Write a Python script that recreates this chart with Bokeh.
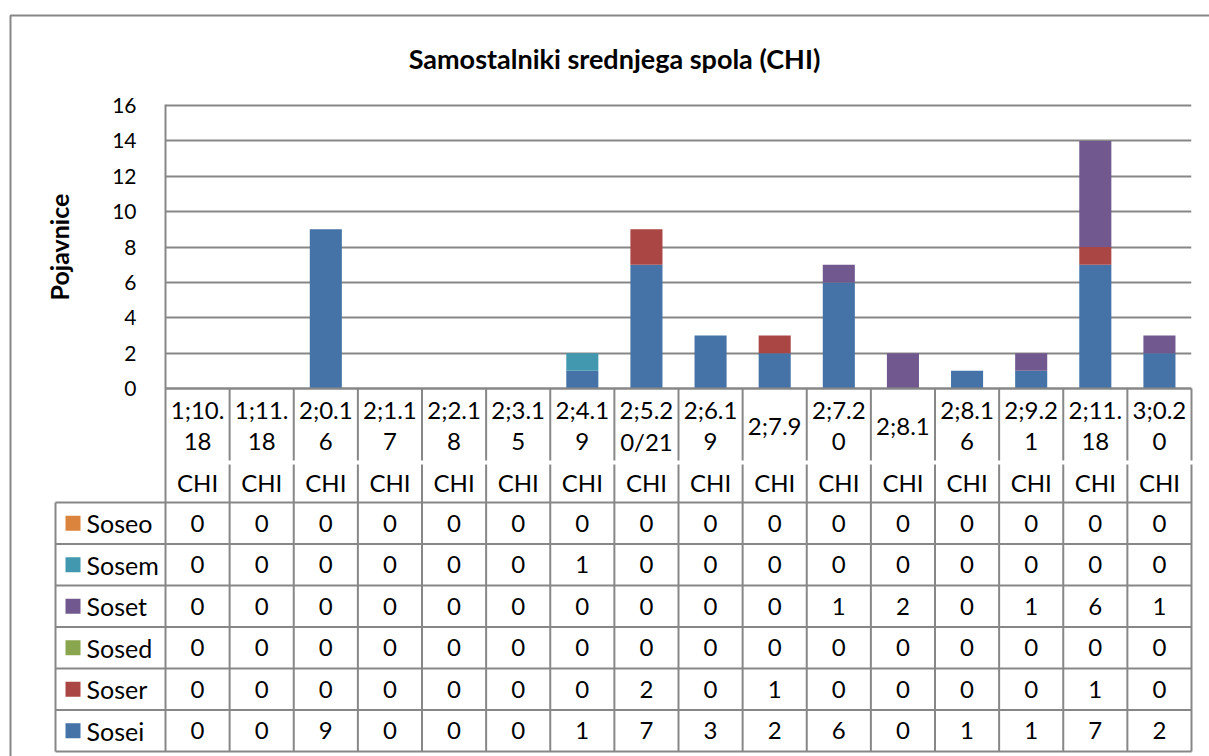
from bokeh.plotting import figure
from bokeh.models import ColumnDataSource, Range1d, FixedTicker
from bokeh.core.properties import value
from bokeh.embed import file_html
from bokeh.resources import INLINE

# ---------------- data ----------------
title = "Samostalniki srednjega spola (CHI)"
y_label = "Pojavnice"
ages = ["1;10.18", "1;11.18", "2;0.16", "2;1.17", "2;2.18", "2;3.15", "2;4.19",
        "2;5.20/21", "2;6.19", "2;7.9", "2;7.20", "2;8.1", "2;8.16", "2;9.21",
        "2;11.18", "3;0.20"]
speaker = "CHI"
series = ["Sosei", "Soser", "Sosed", "Soset", "Sosem", "Soseo"]  # stack order, bottom-up
sosei = [0, 0, 9, 0, 0, 0, 1, 7, 3, 2, 6, 0, 1, 1, 7, 2]
soser = [0, 0, 0, 0, 0, 0, 0, 2, 0, 1, 0, 0, 0, 0, 1, 0]
sosed = [0, 0, 0, 0, 0, 0, 0, 0, 0, 0, 0, 0, 0, 0, 0, 0]
soset = [0, 0, 0, 0, 0, 0, 0, 0, 0, 0, 1, 2, 0, 1, 6, 1]
sosem = [0, 0, 0, 0, 0, 0, 1, 0, 0, 0, 0, 0, 0, 0, 0, 0]
soseo = [0, 0, 0, 0, 0, 0, 0, 0, 0, 0, 0, 0, 0, 0, 0, 0]
colors = ["#4572A7", "#AA4643", "#89A54E", "#71588F", "#4198AF", "#DB843D"]
y_ticks = [0, 2, 4, 6, 8, 10, 12, 14, 16]

values = {"Sosei": sosei, "Soser": soser, "Sosed": sosed,
          "Soset": soset, "Sosem": sosem, "Soseo": soseo}

# ---------------- layout (page pixels) ----------------
W, H = 1209, 756
FONT = "Lato"
GRAY = "#878787"
n = len(ages)
col_w = 64.125
ppu = 17.6875               # pixels per y unit
pad = 2 / ppu


def X(px):  # page x -> data x
    return (px - 165) / col_w


def Y(py):  # page y -> data y
    return (388 - py) / ppu


p = figure(width=W, height=H, output_backend="svg", toolbar_location=None,
           x_range=Range1d(0, n), y_range=Range1d(-pad, 16 + pad),
           min_border_left=165, min_border_right=18,
           min_border_top=103, min_border_bottom=366)
p.outline_line_color = None
p.background_fill_color = "white"
p.border_fill_color = "white"
p.xaxis.visible = False
p.xgrid.visible = False
p.ygrid.ticker = FixedTicker(ticks=y_ticks)
p.ygrid.grid_line_color = GRAY
p.ygrid.grid_line_width = 2

ax = p.yaxis[0]
ax.ticker = FixedTicker(ticks=y_ticks)
ax.axis_line_color = None
ax.major_tick_line_color = None
ax.minor_tick_line_color = None
ax.major_label_standoff = 23
ax.major_label_text_font = FONT
ax.major_label_text_font_size = "21px"
ax.major_label_text_color = "black"
ax.axis_label = y_label
ax.axis_label_text_font = FONT
ax.axis_label_text_font_style = "bold"
ax.axis_label_text_font_size = "25px"
ax.axis_label_text_color = "black"
ax.axis_label_standoff = 35

# ---------------- stacked bars ----------------
src = ColumnDataSource(dict(x=[i + 0.5 for i in range(n)], **values))
p.vbar_stack(series, x="x", width=0.5, source=src, color=colors,
             line_color=None)

# ---------------- title ----------------
p.text(x=[X(614)], y=[Y(58)], text=[title], text_font=value(FONT),
       text_font_style="bold", text_font_size="27px", text_align="center",
       text_baseline="middle", text_color="black", level="overlay")

# ---------------- table lines ----------------
rows = list(reversed(series))
row_top = 502
row_h = 41.5
bottom = row_top + row_h * len(rows)
xs, ys = [], []
# plot left edge + header/table column lines
xs.append([X(165), X(165)]); ys.append([Y(104), Y(bottom)])
for i in range(1, n + 1):
    xx = X(165 + col_w * i)
    xs.append([xx, xx]); ys.append([Y(388), Y(460)])
    xs.append([xx, xx]); ys.append([Y(464), Y(bottom)])
# horizontal lines
xs.append([X(165), X(1191)]); ys.append([Y(388), Y(388)])
for r in range(len(rows) + 1):
    yy = Y(row_top + row_h * r)
    xs.append([X(55), X(1191)]); ys.append([yy, yy])
xs.append([X(55), X(55)]); ys.append([Y(row_top), Y(bottom)])
p.multi_line(xs, ys, line_color=GRAY, line_width=2, level="overlay")

# outer chart border
p.multi_line([[X(10), X(10), X(1300)]], [[Y(900), Y(15), Y(15)]],
             line_color=GRAY, line_width=2, level="overlay")

# ---------------- header labels ----------------
hx, hy, ht = [], [], []
for i, a in enumerate(ages):
    cx = X(165 + col_w * (i + 0.5))
    parts = [a[:5], a[5:]] if len(a) > 5 else [a]
    if len(parts) == 1:
        hx.append(cx); hy.append(Y(425)); ht.append(parts[0])
    else:
        hx += [cx, cx]; hy += [Y(409), Y(441)]; ht += parts
    hx.append(cx); hy.append(Y(482)); ht.append(speaker)
p.text(x=hx, y=hy, text=ht, text_font=value(FONT), text_font_size="24px",
       text_align="center", text_baseline="middle", text_color="black",
       level="overlay")

# ---------------- table values ----------------
tx, ty, tt = [], [], []
lx, ly, lt, lc = [], [], [], []
for r, s in enumerate(rows):
    cy = Y(row_top + row_h * (r + 0.5))
    for i, v in enumerate(values[s]):
        tx.append(X(165 + col_w * (i + 0.5))); ty.append(cy); tt.append(str(v))
    lx.append(X(72.5)); ly.append(cy); lt.append(s)
    lc.append(colors[series.index(s)])
p.text(x=tx, y=ty, text=tt, text_font=value(FONT), text_font_size="24px",
       text_align="center", text_baseline="middle", text_color="black",
       level="overlay")
p.rect(x=lx, y=ly, width=15 / col_w, height=15 / ppu, fill_color=lc,
       line_color=None, level="overlay")
p.text(x=[X(86)] * len(lt), y=ly, text=lt, text_font=value(FONT),
       text_font_size="25px", text_align="left", text_baseline="middle",
       text_color="black", level="overlay")

open("out.html", "w").write(file_html(p, INLINE))
